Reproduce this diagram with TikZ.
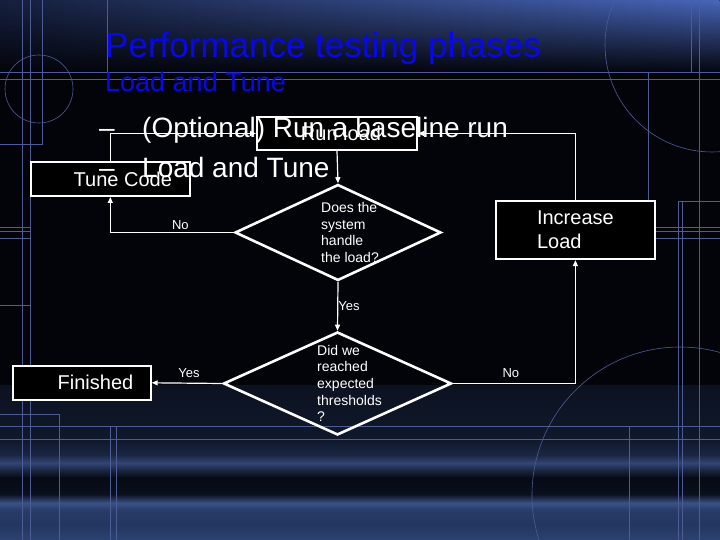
\documentclass[tikz,border=0pt]{standalone}
\usepackage{fontspec}
\setmainfont{Liberation Sans}
\usetikzlibrary{arrows.meta,shapes.geometric,fadings}
\definecolor{titleblue}{RGB}{8,8,235}
\definecolor{deco}{RGB}{78,92,150}
\definecolor{slide}{RGB}{3,4,10}
\definecolor{bandleft}{RGB}{22,32,62}
\definecolor{bandright}{RGB}{72,102,185}
% floor stripes, bottom to top
\definecolor{fl0}{RGB}{44,66,112}
\definecolor{fl1}{RGB}{34,54,96}
\definecolor{fl2}{RGB}{40,60,104}
\definecolor{fl3}{RGB}{58,82,136}
\definecolor{fl4}{RGB}{10,16,30}
\definecolor{fl5}{RGB}{6,10,20}
\definecolor{fl6}{RGB}{26,38,66}
\definecolor{fl7}{RGB}{50,70,118}
\definecolor{fl8}{RGB}{26,38,66}
\definecolor{fl9}{RGB}{16,24,44}
\definecolor{fl10}{RGB}{12,18,32}
\pgfdeclareverticalshading{floorband}{100bp}{color(0bp)=(fl0); color(25bp)=(fl0);
  color(29.8bp)=(fl1); color(34.7bp)=(fl2); color(36.9bp)=(fl3); color(39.8bp)=(fl4);
  color(45bp)=(fl5); color(47.6bp)=(fl6); color(49.8bp)=(fl7); color(52.4bp)=(fl8);
  color(57.3bp)=(fl9); color(75bp)=(fl10); color(100bp)=(fl10)}
\tikzfading[name=bandfade, top color=transparent!0, middle color=transparent!10,
  bottom color=transparent!100]

\begin{document}
\begin{tikzpicture}[x=1pt, y=-1pt,
    box/.style={draw=white, fill=black, line width=2pt, text=white, inner sep=0pt,
      font=\fontsize{20}{24}\selectfont},
    query/.style={diamond, draw=white, line width=2.6pt, inner sep=0pt},
    qtext/.style={text=white, align=left, inner sep=0pt, font=\fontsize{14}{16.7}\selectfont},
    lbl/.style={text=white, inner sep=0pt, font=\fontsize{13}{15}\selectfont},
    arr/.style={draw=white, line width=1.2pt, -{Triangle[length=6pt,width=5pt]}},
    frame/.style={draw=deco, line width=0.6pt},
    bullet/.style={text=white, anchor=base west, inner sep=0pt, font=\fontsize{28}{32}\selectfont},
    heading/.style={text=titleblue, anchor=base west, inner sep=0pt}]
  % slide background
  \fill[slide] (0,0) rectangle (720,540);
  \useasboundingbox (0,0) rectangle (720,540);
  \shade[left color=bandleft, right color=bandright, path fading=bandfade] (0,0) rectangle (720,74);
  \shade[shading=floorband] (0,385) rectangle (720,540);
  % frame lines
  \draw[frame] (0,72) -- (720,72) (0,79) -- (720,79) (0,426) -- (720,426) (0,439) -- (720,439);
  \draw[frame] (22.7,0) -- (22.7,540) (30.7,0) -- (30.7,540) (699.3,0) -- (699.3,540);
  \draw[frame] (0,144) -| (42.7,0);
  \draw[frame] (107,0) -- (107,72) (691,0) -- (691,72);
  \draw[frame] (720,238.3) -| (648.3,72);
  \draw[frame] (648.3,227.3) -- (720,227.3) (648.3,231.7) -- (720,231.7);
  \draw[frame] (720,201.7) -| (678.3,540) (682.7,201.7) -- (682.7,540);
  \draw[frame] (0,227.3) -- (30.7,227.3) (0,231.7) -- (30.7,231.7) (0,238.3) -- (30.7,238.3)
    (0,305) -- (30.7,305);
  \draw[frame] (0,414) -| (59,540);
  \draw[frame] (110,426) -- (110,540) (116,426) -- (116,540) (629,426) -- (629,540);
  \draw[frame] (39,89) circle[radius=34];
  \draw[frame] (712,45) circle[radius=107];
  \draw[frame] (680,495) circle[radius=148];
  % flow chart
  \node[box, minimum width=160pt, minimum height=33pt] (runload) at (337,133.5) {\hspace*{8pt}Run load};
  \node[box, minimum width=159.3pt, minimum height=34pt] (tunecode) at (110.3,179) {\hspace*{25pt}Tune Code};
  \node[box, minimum width=159.3pt, minimum height=58.3pt, align=left] (incload) at (575.4,230) {Increase\\Load};
  \node[box, minimum width=137.4pt, minimum height=34.3pt] (finished) at (82,382.8) {\hspace*{27pt}Finished};
  \node[query, minimum width=206pt, minimum height=96pt] (handle) at (338,232.5) {};
  \node[query, minimum width=228pt, minimum height=103pt] (reached) at (337.5,383.5) {};
  \node[qtext, anchor=west] (handletext) at ([xshift=-17pt]handle.center) {Does the\\system\\handle\\the load?};
  \node[qtext, anchor=west] (reachedtext) at ([xshift=-20.5pt]reached.center) {Did we\\reached\\expected\\thresholds\\?};
  \draw[arr] (tunecode.north) |- (runload.west);
  \draw[arr] (incload.north) |- (runload.east);
  \draw[arr] (runload.south) -- (handle.north);
  \draw[arr] (handle.west) -| (tunecode.south) node[lbl, pos=0.216, above=2pt] (no1) {No};
  \draw[arr] (handle.south) -- (reached.north) node[lbl, pos=0.49, anchor=west] (yes1) {Yes};
  \draw[arr] (reached.west) -- (finished.east) node[lbl, pos=0.47, above=5pt] (yes2) {Yes};
  \draw[arr] (reached.east) -| (incload.south) node[lbl, pos=0.237, above=5pt] (no2) {No};
  % slide text
  \node[heading, font=\fontsize{35}{40}\selectfont] (title) at (105,58) {Performance testing phases};
  \node[heading, font=\fontsize{27}{30}\selectfont] (subtitle) at (105,92) {Load and Tune};
  \node[bullet] (dash1) at (99,137.5) {–};
  \node[bullet] (step1) at (142,137.5) {(Optional) Run a baseline run};
  \node[bullet] (dash2) at (99,177.5) {–};
  \node[bullet] (step2) at (142,177.5) {Load and Tune};
\end{tikzpicture}
\end{document}
